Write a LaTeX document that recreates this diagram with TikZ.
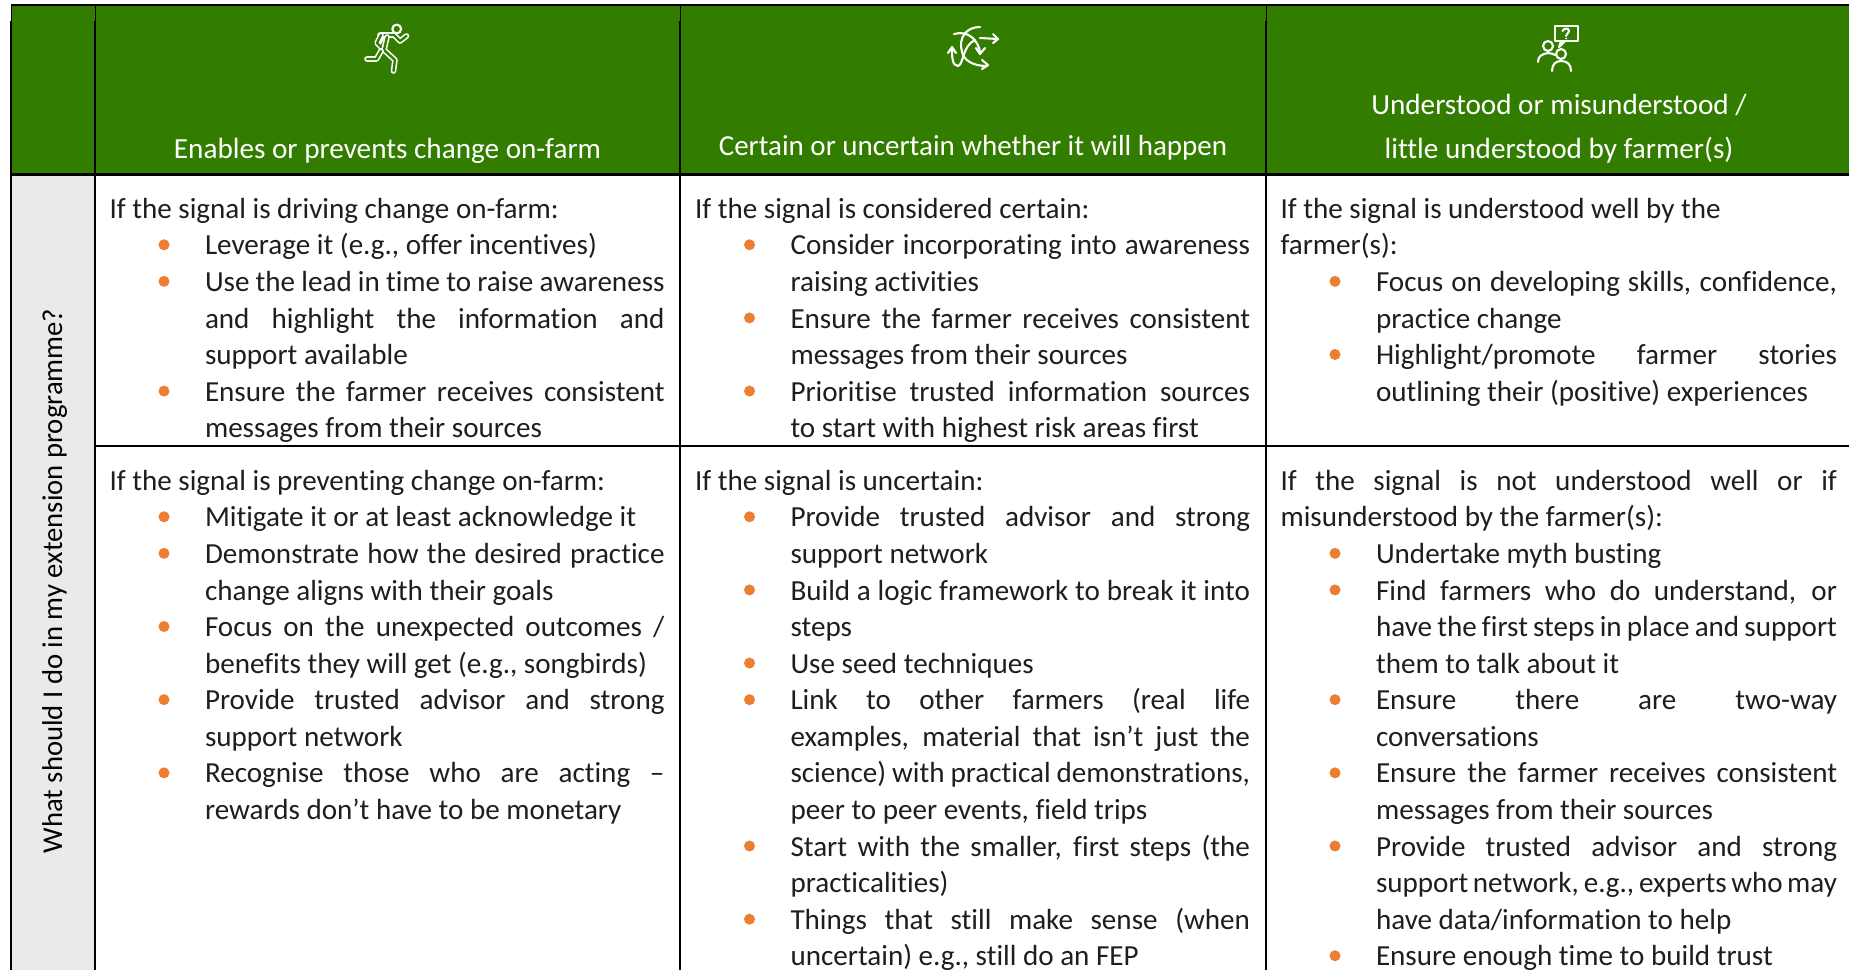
\documentclass[tikz,border=0pt]{standalone}
\usepackage{fontspec}
\setmainfont[Ligatures=NoCommon]{Carlito}
\definecolor{hdrgreen}{HTML}{327D00}
\definecolor{sidegray}{HTML}{EAEAEA}
\definecolor{bulorange}{HTML}{ED7D31}
\definecolor{bodyink}{HTML}{1E1E1E}
\newcommand{\cellfont}{\fontsize{29.1pt}{36.58pt}\selectfont}
\newcommand{\hl}[1]{\par\noindent\hangindent=0pt #1\par}
\newcommand{\itm}[1]{\par\noindent\leftskip=95.5pt\llap{\textcolor{bulorange}{\raisebox{4.6pt}{\tikz\fill (0,0) circle (5.5pt);}}\kern 35.5pt}#1\par}
\tikzset{
  x=1pt,y=-1pt,
  cell/.style={anchor=north west,inner sep=0pt,outer sep=0pt,text width=555pt,align=justify,text=bodyink,font=\cellfont},
  head/.style={anchor=base,inner sep=0pt,text=white,font=\fontsize{29.2pt}{36pt}\selectfont},
  rule/.style={line width=2pt,black},
  icon/.style={white,line width=2.1pt,line cap=round,line join=round},
  hollow/.style={white,line width=1.6pt,double=hdrgreen,double distance=2.4pt,line cap=round,line join=round}
}
\begin{document}
\begin{tikzpicture}
\useasboundingbox (0,0) rectangle (1849,970);
\fill[white] (0,0) rectangle (1849,970);
\fill[hdrgreen] (11,5) rectangle (1849,174);
\fill[sidegray] (11,174) rectangle (94,970);
\draw[rule] (11,5) -- (1849,5);
\draw[line width=2.6pt] (11,174.5) -- (1849,174.5);
\draw[rule] (95,445.5) -- (1849,445.5);
\draw[rule] (11,21) -- (11,970);
\draw[line width=1pt] (11,5) -- (11,21);
\foreach \x in {95,680,1266} {
  \draw[rule] (\x,21) -- (\x,970);
  \draw[line width=1pt] (\x,5) -- (\x,21);
}

\node[head] (h1) at (387.5,158) {Enables or prevents change on-farm};
\node[head,font=\fontsize{29pt}{36pt}\selectfont] (h2) at (973,155) {Certain or uncertain whether it will happen};
\node[head] (h3a) at (1559,114) {Understood or misunderstood /};
\node[head] (h3b) at (1559,158) {little understood by farmer(s)};
\node[rotate=90,anchor=base,inner sep=0pt,text=black,font=\fontsize{28.7pt}{34pt}\selectfont] (side) at (62,581) {What should I do in my extension programme?};

\node[cell] (c11) at (109.5,181.7) {\hl{If the signal is driving change on-farm:}
\itm{Leverage it (e.g., offer incentives)}
\itm{Use the lead in time to raise awareness\linebreak and highlight the information and\linebreak support available}
\itm{Ensure the farmer receives consistent\linebreak messages from their sources}};
\node[cell] (c12) at (695,181.7) {\hl{If the signal is considered certain:}
\itm{Consider incorporating into awareness\linebreak raising activities}
\itm{Ensure the farmer receives consistent\linebreak messages from their sources}
\itm{Prioritise trusted information sources\linebreak to start with highest risk areas first}};
\node[cell,text width=556.5pt] (c13) at (1280.5,181.7) {\hl{If the signal is understood well by the\newline farmer(s):}
\itm{Focus on developing skills, confidence,\linebreak practice change}
\itm{Highlight/promote farmer stories\linebreak outlining their (positive) experiences}};
\node[cell] (c21) at (109.5,453.7) {\hl{If the signal is preventing change on-farm:}
\itm{Mitigate it or at least acknowledge it}
\itm{Demonstrate how the desired practice\linebreak change aligns with their goals}
\itm{Focus on the unexpected outcomes /\linebreak benefits they will get (e.g., songbirds)}
\itm{Provide trusted advisor and strong\linebreak support network}
\itm{Recognise those who are acting –\linebreak rewards don’t have to be monetary}};
\node[cell] (c22) at (695,453.7) {\hl{If the signal is uncertain:}
\itm{Provide trusted advisor and strong\linebreak support network}
\itm{Build a logic framework to break it into\linebreak steps}
\itm{Use seed techniques}
\itm{Link to other farmers (real life\linebreak examples, material that isn’t just the\linebreak science) with practical demonstrations,\linebreak peer to peer events, field trips}
\itm{Start with the smaller, first steps (the\linebreak practicalities)}
\itm{Things that still make sense (when\linebreak uncertain) e.g., still do an FEP}};
\node[cell,text width=556.5pt] (c23) at (1280.5,453.7) {\hl{If the signal is not understood well or if\linebreak misunderstood by the farmer(s):}
\itm{Undertake myth busting}
\itm{Find farmers who do understand, or\linebreak have the first steps in place and support\linebreak them to talk about it}
\itm{Ensure there are two-way\linebreak conversations}
\itm{Ensure the farmer receives consistent\linebreak messages from their sources}
\itm{Provide trusted advisor and strong\linebreak support network, e.g., experts who may\linebreak have data/information to help}
\itm{Ensure enough time to build trust}};

% runner icon
\begin{scope}[shift={(340,10)}]
\draw[icon] (56.7,19) circle (4.4);
\draw[hollow] (40,25) -- (54,25) -- (60,31) -- (66.5,26);
\draw[hollow] (41,25) -- (37,33) -- (41,37) -- (45,30);
\draw[hollow] (47,27) -- (44,40) -- (55,50) -- (53.5,61);
\draw[hollow] (41,41) -- (36.5,49) -- (27,49);
\end{scope}
% arrows icon
\begin{scope}[shift={(930,10)},icon]
\draw (24,24) .. controls (38,20) and (48,30) .. (50,42);
\draw (46,38) -- (50,44) -- (55,38);
\draw (50,17) .. controls (36,17) and (28,28) .. (32,42) .. controls (34,50) and (42,56) .. (57,56);
\draw (52,50) -- (58,55) -- (52,59);
\draw (50,28) -- (68,29);
\draw (63,24) -- (68,29) -- (63,33);
\draw (45,30) .. controls (32,36) and (34,54) .. (28,56) .. controls (22,56) and (22,46) .. (22,38);
\draw (18,43) -- (22,37) -- (26,43);
\end{scope}
% people icon
\begin{scope}[shift={(1520,10)},icon]
\draw (35,16) rectangle (58,31);
\draw (41,31) -- (39,37) -- (45,31);
\draw (42.5,21) .. controls (44,17.5) and (49,18) .. (49,21) .. controls (49,23.5) and (46,24) .. (46,26);
\fill[white,draw=none] (46,28.5) circle (1);
\draw (28,36) circle (5);
\draw (41,44) circle (5);
\draw (18,52) .. controls (18,46) and (22,44) .. (28,43) .. controls (31,43) and (33,44) .. (35,45);
\draw (32,61) .. controls (32,54) and (36,51) .. (41,51) .. controls (47,51) and (51,54) .. (51,61);
\end{scope}
\end{tikzpicture}
\end{document}
